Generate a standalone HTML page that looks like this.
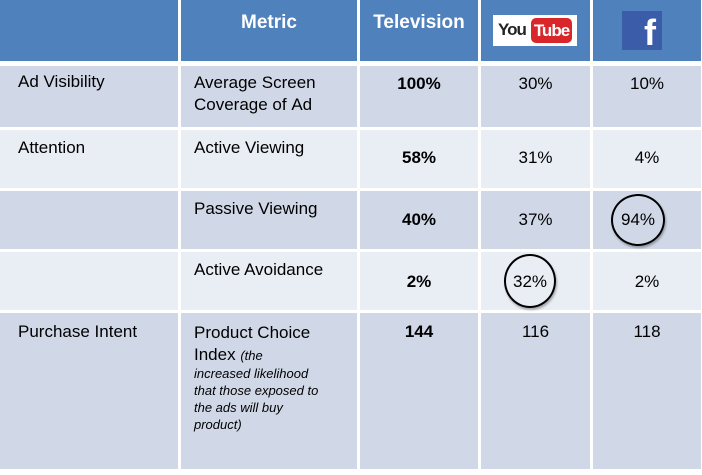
<!DOCTYPE html>
<html><head><meta charset="utf-8"><style>
body{margin:0;width:702px;height:475px;background:#fff;font-family:"Liberation Sans",sans-serif;position:relative;overflow:hidden}
.c{position:absolute;box-sizing:border-box;font-size:17px;color:#000}
.h{background:#4f81bd;color:#fff;font-weight:bold;font-size:19px;text-align:center}
.a{background:#d0d8e8}.b{background:#e9edf4}
.ctr{text-align:center}
.bd{font-weight:bold}
.circ{position:absolute;border:2px solid #000;border-radius:50%;box-sizing:border-box;box-shadow:1px 2px 2px rgba(0,0,0,.3)}
</style></head><body>
<div class="c h" style="left:0;top:0;width:178px;height:61px"></div>
<div class="c h" style="left:181px;top:0;width:176px;height:61px;padding-top:12px">Metric</div>
<div class="c h" style="left:360px;top:0;width:118px;height:61px;padding-top:12px">Television</div>
<div class="c h" style="left:481px;top:0;width:109px;height:61px">
 <div style="position:absolute;left:12px;top:15px;width:84px;height:31px;background:#fff">
  <span style="position:absolute;left:5px;top:5px;font-size:17px;color:#222;font-weight:bold;letter-spacing:-1px">You</span>
  <span style="position:absolute;left:38px;top:3px;width:41px;height:25px;background:#d8262b;border-radius:5px;color:#fff;font-size:17px;font-weight:bold;text-align:center;line-height:25px;letter-spacing:-1px">Tube</span>
 </div></div>
<div class="c h" style="left:593px;top:0;width:108px;height:61px">
 <div style="position:absolute;left:29px;top:11px;width:40px;height:39px;background:#3b5ca8;color:#fff;font-size:36px;font-weight:bold;line-height:44px;text-align:right;padding-right:6px;box-sizing:border-box;overflow:hidden">f</div></div>

<div class="c a" style="left:0;top:66px;width:178px;height:61px;padding:6px 0 0 18px">Ad Visibility</div>
<div class="c a" style="left:181px;top:66px;width:176px;height:61px;padding:6px 0 0 13px;line-height:22px">Average Screen<br>Coverage of&nbsp;Ad</div>
<div class="c a ctr bd" style="left:360px;top:66px;width:118px;height:61px;padding-top:8px">100%</div>
<div class="c a ctr" style="left:481px;top:66px;width:109px;height:61px;padding-top:8px">30%</div>
<div class="c a ctr" style="left:593px;top:66px;width:108px;height:61px;padding-top:8px">10%</div>

<div class="c b" style="left:0;top:130px;width:178px;height:58px;padding:8px 0 0 18px">Attention</div>
<div class="c b" style="left:181px;top:130px;width:176px;height:58px;padding:8px 0 0 13px">Active Viewing</div>
<div class="c b ctr bd" style="left:360px;top:130px;width:118px;height:58px;padding-top:18px">58%</div>
<div class="c b ctr" style="left:481px;top:130px;width:109px;height:58px;padding-top:18px">31%</div>
<div class="c b ctr" style="left:593px;top:130px;width:108px;height:58px;padding-top:18px">4%</div>

<div class="c a" style="left:0;top:191px;width:178px;height:58px"></div>
<div class="c a" style="left:181px;top:191px;width:176px;height:58px;padding:8px 0 0 13px">Passive Viewing</div>
<div class="c a ctr bd" style="left:360px;top:191px;width:118px;height:58px;padding-top:19px">40%</div>
<div class="c a ctr" style="left:481px;top:191px;width:109px;height:58px;padding-top:19px">37%</div>
<div class="c a" style="left:593px;top:191px;width:108px;height:58px"></div>
<div class="c ctr" style="left:611px;top:210px;width:54px">94%</div>

<div class="c b" style="left:0;top:252px;width:178px;height:58px"></div>
<div class="c b" style="left:181px;top:252px;width:176px;height:58px;padding:8px 0 0 13px">Active Avoidance</div>
<div class="c b ctr bd" style="left:360px;top:252px;width:118px;height:58px;padding-top:20px">2%</div>
<div class="c b" style="left:481px;top:252px;width:109px;height:58px"></div>
<div class="c ctr" style="left:504px;top:272px;width:52px">32%</div>
<div class="c b ctr" style="left:593px;top:252px;width:108px;height:58px;padding-top:20px">2%</div>

<div class="c a" style="left:0;top:313px;width:178px;height:156px;padding:9px 0 0 18px">Purchase Intent</div>
<div class="c a" style="left:181px;top:313px;width:176px;height:156px;padding:9px 0 0 13px;line-height:22px">Product Choice<br>Index <i style="font-size:13px">(the</i>
<div style="font-size:13px;font-style:italic;line-height:17px;margin-top:-2px">increased likelihood<br>that those exposed to<br>the ads will buy<br>product)</div></div>
<div class="c a ctr bd" style="left:360px;top:313px;width:118px;height:156px;padding-top:9px">144</div>
<div class="c a ctr" style="left:481px;top:313px;width:109px;height:156px;padding-top:9px">116</div>
<div class="c a ctr" style="left:593px;top:313px;width:108px;height:156px;padding-top:9px">118</div>

<div class="circ" style="left:611px;top:194px;width:54px;height:52px"></div>
<div class="circ" style="left:504px;top:254px;width:52px;height:54px"></div>
</body></html>
